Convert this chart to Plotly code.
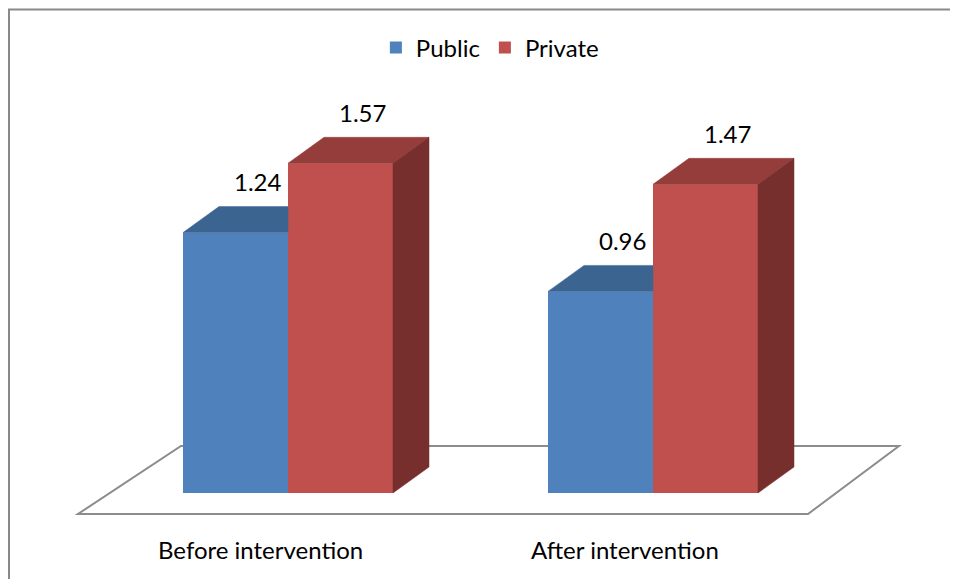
import plotly.graph_objects as go

# ---------------- data ----------------
categories = ["Before intervention", "After intervention"]
series_names = ["Public", "Private"]
public_values = [1.24, 0.96]
private_values = [1.57, 1.47]

# ---------------- styling / geometry ----------------
W, H = 958, 579
PAGE = 8                          # page body margin of the browser
X0_PX, X_UNIT_PX = 288 - PAGE, 365   # pixel of category 0 centre, pixels per category
Y0_PX, Y_UNIT_PX = 493 - PAGE, 210   # pixel of value 0, pixels per value unit

BAR_W = 105 / X_UNIT_PX
DEPTH_X = 36 / X_UNIT_PX
DEPTH_Y = 26 / Y_UNIT_PX
LABEL_DX = 22 / X_UNIT_PX
CAT_DX = -28 / X_UNIT_PX
CAT_Y = (Y0_PX - (549 - PAGE)) / Y_UNIT_PX

FONT = "Lato"
FSIZE = 24
front_colors = ["#4F81BD", "#C0504D"]
top_colors = ["#3C6490", "#943D3B"]
side_colors = ["#3F6797", "#772F2E"]


def ppx(p):
    return (p - PAGE) / W


def ppy(p):
    return 1 - (p - PAGE) / H


values = [public_values, private_values]
offsets = [-BAR_W, 0.0]

fig = go.Figure()

# front faces (real bars)
for s, name in enumerate(series_names):
    fig.add_trace(go.Bar(
        x=list(range(len(categories))), y=values[s], name=name,
        offset=offsets[s], width=BAR_W,
        marker=dict(color=front_colors[s], line=dict(width=0)),
        hoverinfo="skip",
    ))

# 3D faces computed from the values
for s in range(len(series_names)):
    for i, v in enumerate(values[s]):
        x0 = i + offsets[s]
        x1 = x0 + BAR_W
        hidden = s + 1 < len(values) and values[s + 1][i] >= v + DEPTH_Y
        if hidden:
            tx = [x0, x1, x1, x0 + DEPTH_X, x0]
            ty = [v, v, v + DEPTH_Y, v + DEPTH_Y, v]
        else:
            tx = [x0, x1, x1 + DEPTH_X, x0 + DEPTH_X, x0]
            ty = [v, v, v + DEPTH_Y, v + DEPTH_Y, v]
        fig.add_trace(go.Scatter(x=tx, y=ty, mode="lines", fill="toself",
                                 fillcolor=top_colors[s], line=dict(width=0.5, color=top_colors[s]),
                                 showlegend=False, hoverinfo="skip"))
        if not hidden:
            sx = [x1, x1, x1 + DEPTH_X, x1 + DEPTH_X, x1]
            sy = [0, v, v + DEPTH_Y, DEPTH_Y, 0]
            fig.add_trace(go.Scatter(x=sx, y=sy, mode="lines", fill="toself",
                                     fillcolor=side_colors[s], line=dict(width=0.5, color=side_colors[s]),
                                     showlegend=False, hoverinfo="skip"))
        fig.add_annotation(x=x0 + BAR_W / 2 + LABEL_DX, y=v + DEPTH_Y, yshift=25,
                           text=f"{v:.2f}", showarrow=False,
                           font=dict(family=FONT, size=FSIZE, color="#000000"))

for i, c in enumerate(categories):
    fig.add_annotation(x=i + CAT_DX, y=CAT_Y, text=c, showarrow=False,
                       font=dict(family=FONT, size=FSIZE, color="#000000"))

# floor and outer frame
floor = [(181, 446), (899, 446), (808, 514), (78, 514)]
path = "M " + " L ".join(f"{ppx(a)},{ppy(b)}" for a, b in floor) + " Z"
fig.add_shape(type="path", path=path, xref="paper", yref="paper", layer="below",
              line=dict(color="#8C8C8C", width=2), fillcolor="white")
fig.add_shape(type="rect", xref="paper", yref="paper", x0=ppx(9), y0=-0.05, x1=1.05, y1=ppy(9.5),
              line=dict(color="#898989", width=2), layer="below")

fig.update_layout(
    width=W, height=H,
    margin=dict(l=0, r=0, t=0, b=0),
    paper_bgcolor="white", plot_bgcolor="rgba(0,0,0,0)",
    barmode="overlay",
    showlegend=True,
    legend=dict(orientation="h", x=0.503, xanchor="center", y=ppy(48), yanchor="middle",
                font=dict(family=FONT, size=FSIZE, color="#000000"), itemclick=False,
                bgcolor="rgba(0,0,0,0)"),
    xaxis=dict(range=[-X0_PX / X_UNIT_PX, (W - X0_PX) / X_UNIT_PX], visible=False, fixedrange=True),
    yaxis=dict(range=[(Y0_PX - H) / Y_UNIT_PX, Y0_PX / Y_UNIT_PX], visible=False, fixedrange=True),
)

fig.write_html("out.html")
